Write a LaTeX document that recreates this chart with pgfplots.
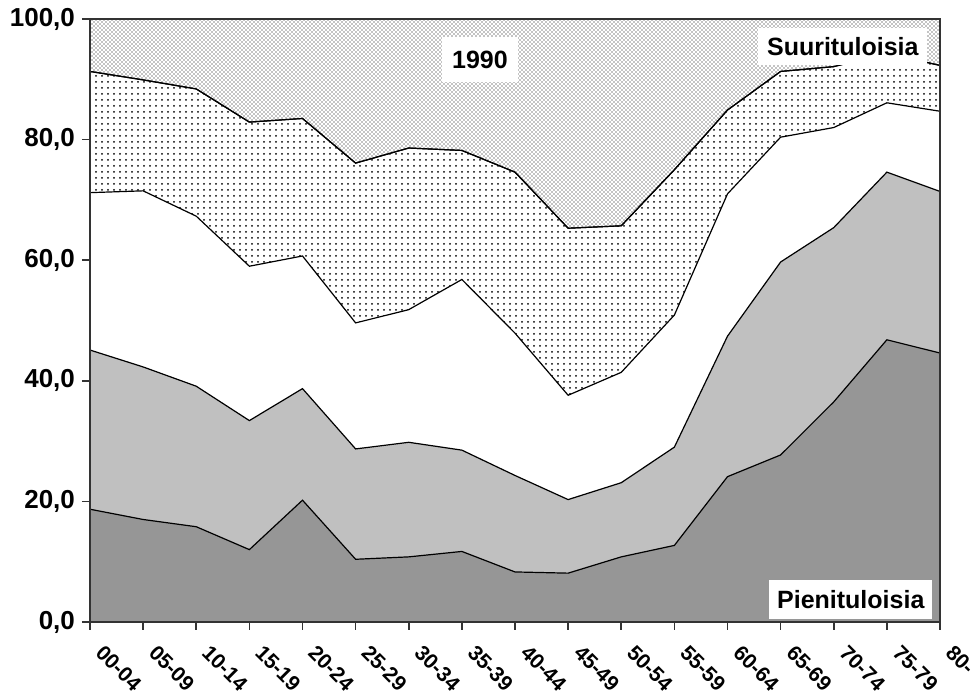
\documentclass[border=0pt]{standalone}
\usepackage{pgfplots}
\pgfplotsset{compat=1.18}
\usepackage{pgfplotstable}
\usepackage{fontspec}
\setmainfont{Liberation Sans}
\usetikzlibrary{patterns,patterns.meta}

\tikzdeclarepattern{
  name=densedots,
  type=uncolored,
  bottom left={(-0.5pt,-0.5pt)},
  top right={(1.5pt,1.5pt)},
  tile size={(2pt,2pt)},
  code={\fill (0pt,0pt) circle (0.36pt); \fill (1pt,1pt) circle (0.36pt);}
}

\pgfplotstableread{
x b1 b2 b3 b4
0 18.7 45.1 71.2 91.3
1 17.0 42.3 71.5 89.9
2 15.8 39.1 67.3 88.4
3 12.0 33.4 59.0 82.9
4 20.2 38.7 60.7 83.5
5 10.4 28.7 49.6 76.1
6 10.8 29.8 51.8 78.6
7 11.7 28.5 56.8 78.2
8 8.3 24.3 47.9 74.6
9 8.1 20.3 37.6 65.3
10 10.8 23.1 41.4 65.7
11 12.7 29.0 50.9 75.0
12 24.1 47.4 71.0 84.9
13 27.7 59.7 80.4 91.3
14 36.5 65.4 82.0 92.1
15 46.8 74.6 86.1 94.3
16 44.6 71.4 84.7 92.3
}\datatable

\begin{document}
\begin{tikzpicture}
\begin{axis}[name=ax, scale only axis, width=425pt, height=301.5pt,
  xmin=0, xmax=16, ymin=0, ymax=100,
  xtick={0,...,16},
  xticklabels={00-04,05-09,10-14,15-19,20-24,25-29,30-34,35-39,40-44,45-49,50-54,55-59,60-64,65-69,70-74,75-79,80-},
  ytick={0,20,40,60,80,100},
  yticklabels={{0,0},{20,0},{40,0},{60,0},{80,0},{100,0}},
  xtick pos=bottom, ytick pos=left,
  tick align=outside, major tick length=4pt,
  axis line style={black!80, line width=0.8pt},
  tick style={black!80, line width=0.8pt},
  xticklabel style={xshift=7.5pt, yshift=-2pt, rotate=-45, anchor=north west, font=\bfseries\fontsize{10.5}{12}\selectfont},
  yticklabel style={font=\bfseries\fontsize{13}{15}\selectfont},
  axis on top,
]
\addplot[draw=none, fill=white, postaction={pattern=densedots}] coordinates {(0,100) (16,100)} \closedcycle;
\addplot[draw=black, line width=0.6pt, fill=white, postaction={pattern=dots}] table[x=x, y=b4] {\datatable} \closedcycle;
\addplot[draw=black, line width=0.6pt, fill=white] table[x=x, y=b3] {\datatable} \closedcycle;
\addplot[draw=black, line width=0.6pt, fill={rgb,255:red,192;green,192;blue,192}] table[x=x, y=b2] {\datatable} \closedcycle;
\addplot[draw=black, line width=0.6pt, fill={rgb,255:red,150;green,150;blue,150}] table[x=x, y=b1] {\datatable} \closedcycle;
\node[fill=white, minimum width=38pt, minimum height=22.5pt, inner sep=0pt, font=\bfseries\fontsize{12.5}{14}\selectfont] at (axis cs:7.34,93.2) {1990};
\node[fill=white, inner xsep=4.5pt, minimum height=18.5pt, inner ysep=0pt, font=\bfseries\fontsize{12.5}{14}\selectfont] at (axis cs:14.17,95.4) {Suurituloisia};
\node[fill=white, inner xsep=4pt, minimum height=19.5pt, inner ysep=0pt, font=\bfseries\fontsize{12.5}{14}\selectfont] at (axis cs:14.32,3.65) {Pienituloisia};
\end{axis}
\pgfresetboundingbox
\path ([shift={(-45pt,-39pt)}]ax.south west) rectangle ([shift={(17.5pt,9.5pt)}]ax.north east);
\end{tikzpicture}
\end{document}
